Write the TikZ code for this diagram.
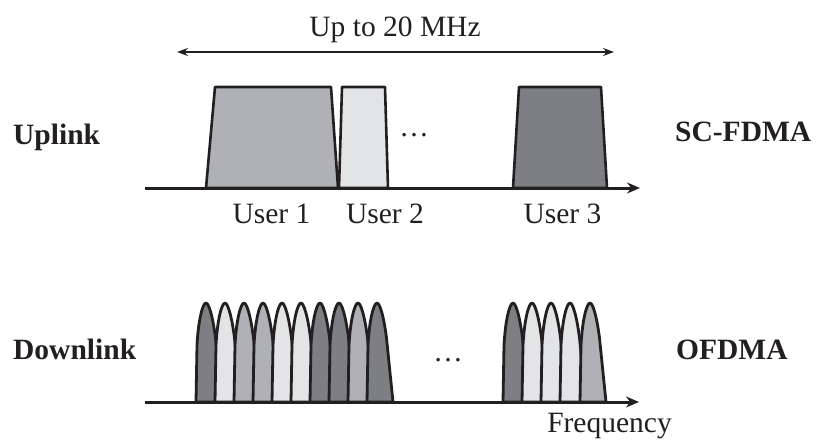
\documentclass[tikz,border=0pt]{standalone}
\usepackage{fontspec}
\setmainfont{Liberation Serif}
\usetikzlibrary{arrows.meta}
\definecolor{ink}{HTML}{231F20}
\definecolor{gdark}{HTML}{7E7F82}
\definecolor{gmid}{HTML}{B0B1B4}
\definecolor{glight}{HTML}{E3E4E6}
\newcommand\ofdmbump[2]{%
  \filldraw[bumpline,fill=#2] (#1-10,402) -- (#1-9,345)
    .. controls (#1-7.5,318) and (#1-3,303) .. (#1,303)
    .. controls (#1+3,303) and (#1+7,318) .. (#1+9.5,338)
    -- (#1+16,402) -- cycle;}
\begin{document}
\begin{tikzpicture}[x=1pt,y=-1pt,
  lbl/.style={inner sep=0pt,anchor=base,text=ink,font=\fontsize{29.5}{34}\selectfont},
  blbl/.style={lbl,font=\fontsize{29.5}{34}\selectfont\bfseries},
  trap/.style={draw=ink,line width=2.6pt,line join=round},
  bumpline/.style={draw=ink,line width=2.8pt,line join=round},
  axis/.style={draw=ink,line width=3pt,-{Stealth[length=13pt,width=11pt]}},
  span/.style={draw=ink,line width=1.4pt,{Stealth[length=11pt,width=8pt]}-{Stealth[length=11pt,width=8pt]}}]
\useasboundingbox (0,0) rectangle (816,441);
% ---------- Uplink ----------
\coordinate (sL) at (177,52);
\coordinate (sR) at (614,52);
\draw[span] (sL) -- (sR);
\node[lbl] (bw) at (395,37) {Up to 20 MHz};
\filldraw[trap,fill=gmid] (206,188) -- (215,87) -- (331,87) -- (338,188) -- cycle;
\filldraw[trap,fill=glight] (339,188) -- (342,87) -- (385,87) -- (388,188) -- cycle;
\filldraw[trap,fill=gdark] (513,188) -- (519,87) -- (601,87) -- (607,188) -- cycle;
\coordinate (uA) at (145,188);
\coordinate (uB) at (640,188);
\draw[axis] (uA) -- (uB);
\node[lbl] (dotsU) at (414,136) {\dots};
\node[lbl] (u1) at (271.5,223) {User 1};
\node[lbl] (u2) at (385,223) {User 2};
\node[lbl] (u3) at (562.5,223) {User 3};
\node[blbl,anchor=base west] (up) at (13,144) {Uplink};
\node[blbl,anchor=base west] (sc) at (675,141) {SC-FDMA};
% ---------- Downlink ----------
\ofdmbump{206}{gdark}
\ofdmbump{225}{glight}
\ofdmbump{244}{gmid}
\ofdmbump{263}{gmid}
\ofdmbump{282}{glight}
\ofdmbump{301}{glight}
\ofdmbump{320}{gdark}
\ofdmbump{339}{gdark}
\ofdmbump{358}{gmid}
\ofdmbump{377}{gdark}
\ofdmbump{513}{gdark}
\ofdmbump{532}{glight}
\ofdmbump{551}{glight}
\ofdmbump{570}{glight}
\ofdmbump{590}{gmid}
\coordinate (dA) at (145,402);
\coordinate (dB) at (639,402);
\draw[axis] (dA) -- (dB);
\node[lbl] (dotsD) at (448,361) {\dots};
\node[blbl,anchor=base west] (down) at (13,359) {Downlink};
\node[blbl,anchor=base west] (of) at (676,359) {OFDMA};
\node[lbl] (freq) at (609.5,432) {Frequency};
\end{tikzpicture}
\end{document}
